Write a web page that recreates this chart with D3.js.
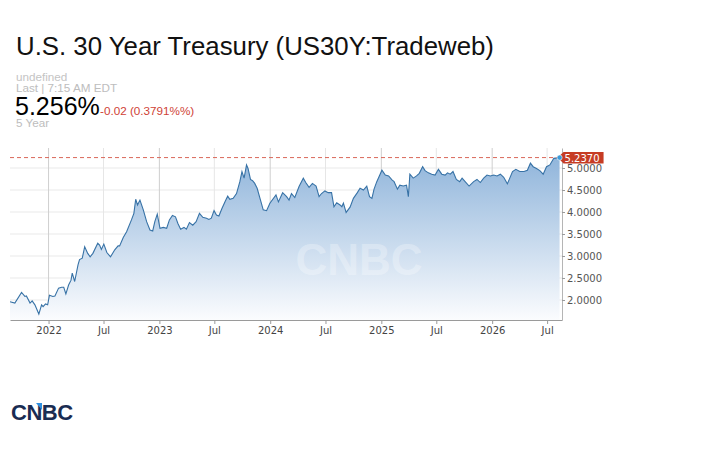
<!DOCTYPE html>
<html>
<head>
<meta charset="utf-8">
<script src="https://cdn.jsdelivr.net/npm/d3@7"></script>
<style>
  body { margin: 0; background: #fff; }
  svg { display: block; }
</style>
</head>
<body>
<div id="app"></div>
<script>
// yield readings (approximate)
const dates = [
  "2021-08-27","2021-09-12","2021-10-04","2021-10-15","2021-10-20","2021-11-01","2021-11-08","2021-11-17",
  "2021-11-30","2021-12-09","2021-12-14","2021-12-22","2021-12-29","2022-01-04","2022-01-15","2022-01-22",
  "2022-02-03","2022-02-13","2022-02-20","2022-02-27","2022-03-08","2022-03-16","2022-03-20","2022-03-28",
  "2022-04-08","2022-04-13","2022-04-22","2022-04-30","2022-05-10","2022-05-18","2022-05-27","2022-06-12",
  "2022-06-18","2022-06-24","2022-07-02","2022-07-12","2022-07-24","2022-08-07","2022-08-18","2022-08-23",
  "2022-09-04","2022-09-15","2022-10-01","2022-10-09","2022-10-15","2022-10-21","2022-10-29","2022-11-09",
  "2022-11-20","2022-12-01","2022-12-10","2022-12-17","2022-12-25","2023-01-03","2023-01-14","2023-01-25",
  "2023-02-03","2023-02-13","2023-02-23","2023-03-03","2023-03-12","2023-03-23","2023-03-31","2023-04-10",
  "2023-04-21","2023-05-02","2023-05-13","2023-05-24","2023-06-05","2023-06-13","2023-06-21","2023-06-30",
  "2023-07-08","2023-07-16","2023-07-26","2023-08-07","2023-08-14","2023-08-21","2023-09-01","2023-09-12",
  "2023-09-23","2023-09-30","2023-10-07","2023-10-15","2023-10-20","2023-10-28","2023-11-04","2023-11-11",
  "2023-11-19","2023-11-30","2023-12-09","2023-12-20","2023-12-31","2024-01-20","2024-01-28","2024-02-11",
  "2024-02-24","2024-03-03","2024-03-11","2024-03-22","2024-04-05","2024-04-19","2024-04-27","2024-05-08",
  "2024-05-19","2024-05-31","2024-06-10","2024-06-18","2024-06-29","2024-07-10","2024-07-21","2024-07-29",
  "2024-08-07","2024-08-18","2024-08-24","2024-08-29","2024-09-07","2024-09-20","2024-10-01","2024-10-14",
  "2024-10-23","2024-11-03","2024-11-14","2024-11-23","2024-12-01","2024-12-08","2024-12-17","2025-01-03",
  "2025-01-14","2025-01-25","2025-02-05","2025-02-12","2025-02-23","2025-03-03","2025-03-14","2025-03-25",
  "2025-03-31","2025-04-05","2025-04-16","2025-04-27","2025-05-06","2025-05-17","2025-05-25","2025-06-05",
  "2025-06-16","2025-06-27","2025-07-08","2025-07-19","2025-07-30","2025-08-07","2025-08-16","2025-08-25",
  "2025-09-05","2025-09-16","2025-09-24","2025-10-04","2025-10-17","2025-11-01","2025-11-12","2025-11-23",
  "2025-12-04","2025-12-15","2025-12-26","2026-01-06","2026-01-17","2026-01-28","2026-02-08","2026-02-20",
  "2026-02-28","2026-03-09","2026-03-20","2026-04-02","2026-04-16","2026-04-27","2026-05-07","2026-05-16",
  "2026-05-27","2026-06-07","2026-06-18","2026-06-29","2026-07-10","2026-07-23","2026-08-11"
];
const yields = [
  1.96,1.93,2.17,2.08,2.09,1.93,1.98,1.89,
  1.68,1.89,1.85,1.91,1.89,2.11,2.08,2.09,
  2.27,2.29,2.29,2.14,2.34,2.45,2.61,2.42,
  2.80,2.92,2.95,3.21,3.06,2.98,3.06,3.29,
  3.25,3.15,3.27,3.08,2.98,3.14,3.23,3.23,
  3.42,3.55,3.82,3.97,4.29,4.16,4.27,4.05,
  3.78,3.59,3.57,3.78,3.95,3.63,3.65,3.63,
  3.82,3.92,3.89,3.74,3.61,3.65,3.61,3.76,
  3.70,3.78,3.97,3.88,3.86,3.83,3.86,4.03,
  3.93,3.91,4.08,4.26,4.36,4.29,4.31,4.42,
  4.69,4.92,4.77,5.07,4.99,4.74,4.71,4.65,
  4.54,4.27,4.05,4.03,4.20,4.39,4.23,4.44,
  4.35,4.27,4.42,4.33,4.58,4.77,4.67,4.56,
  4.65,4.59,4.35,4.42,4.48,4.44,4.44,4.12,
  4.21,4.16,4.12,4.20,3.99,4.11,4.31,4.44,
  4.54,4.50,4.59,4.35,4.31,4.52,4.69,4.95,
  4.84,4.82,4.73,4.69,4.52,4.61,4.59,4.61,
  4.35,4.86,4.77,4.82,4.88,5.03,4.94,4.89,
  4.86,4.84,4.97,4.86,4.84,4.89,4.86,4.92,
  4.74,4.69,4.77,4.69,4.59,4.69,4.74,4.67,
  4.77,4.84,4.82,4.84,4.82,4.86,4.79,4.64,
  4.77,4.92,4.97,4.92,4.92,4.95,5.11,5.03,
  4.99,4.94,4.86,5.03,5.07,5.22,5.237
];
const lastValue = 5.237;

const yTicks = [2.0, 2.5, 3.0, 3.5, 4.0, 4.5, 5.0];
const xTickDates = ["2022-01-01","2022-07-01","2023-01-01","2023-07-01","2024-01-01",
  "2024-07-01","2025-01-01","2025-07-01","2026-01-01","2026-07-01"];
const xTickLabels = ["2022","Jul","2023","Jul","2024","Jul","2025","Jul","2026","Jul"];

const parse = d3.timeParse("%Y-%m-%d");
const series = dates.map((d, i) => ({ date: parse(d), value: yields[i] }));

const W = 720, H = 450;
const plotLeft = 10, plotRight = 562, plotTop = 148, plotBottom = 320;

let svg = d3.select("#app")
  .append("svg")
    .attr("width", W)
    .attr("height", H);

// header texts
const sans = "'Liberation Sans', Arial, Helvetica, sans-serif";
svg.append("text")
  .attr("x", 16).attr("y", 55)
  .style("font-family", sans)
  .style("font-size", "25.8px")
  .style("fill", "#111")
  .text("U.S. 30 Year Treasury (US30Y:Tradeweb)");

svg.append("text").attr("x", 16).attr("y", 80.5)
  .style("font-family", sans).style("font-size", "11.7px").style("fill", "#c4c4c4")
  .text("undefined");
svg.append("text").attr("x", 16).attr("y", 92)
  .style("font-family", sans).style("font-size", "11.7px").style("fill", "#bdbdbd")
  .text("Last | 7:15 AM EDT");
svg.append("text").attr("x", 15).attr("y", 114.5)
  .style("font-family", sans).style("font-size", "25px").style("fill", "#000")
  .text("5.256%");
svg.append("text").attr("x", 100).attr("y", 115)
  .style("font-family", sans).style("font-size", "11.7px").style("fill", "#cf3f36")
  .text("-0.02 (0.3791%%)");
svg.append("text").attr("x", 16).attr("y", 126.5)
  .style("font-family", sans).style("font-size", "11.7px").style("fill", "#bdbdbd")
  .text("5 Year");

// scales
let x = d3.scaleTime()
  .domain([parse("2021-08-27"), parse("2026-08-19")])
  .range([plotLeft, plotRight]);
let y = d3.scaleLinear()
  .domain([1.545, 5.455])
  .range([plotBottom, plotTop]);

// gradient fill
let defs = svg.append("defs");
let grad = defs.append("linearGradient")
  .attr("id", "fillGrad")
  .attr("gradientUnits", "userSpaceOnUse")
  .attr("x1", 0).attr("y1", plotTop).attr("x2", 0).attr("y2", plotBottom);
grad.append("stop").attr("offset", "0%").attr("stop-color", "#8ab1d9");
grad.append("stop").attr("offset", "100%").attr("stop-color", "#fbfcfe");

let chart = svg.append("g").attr("class", "main");

// horizontal grid
chart.selectAll(".hgrid")
  .data(yTicks)
  .enter()
  .append("line")
    .attr("x1", plotLeft).attr("x2", plotRight)
    .attr("y1", d => y(d)).attr("y2", d => y(d))
    .style("stroke", "#e9e9e9")
    .style("stroke-width", 1);

// vertical grid
chart.selectAll(".vgrid")
  .data(xTickDates)
  .enter()
  .append("line")
    .attr("x1", d => x(parse(d))).attr("x2", d => x(parse(d)))
    .attr("y1", plotTop).attr("y2", plotBottom)
    .style("stroke", (d, i) => xTickLabels[i] === "Jul" ? "#e6e6e6" : "#cfcfcf")
    .style("stroke-width", 1);

// area + line
let area = d3.area()
  .x(d => x(d.date))
  .y0(plotBottom)
  .y1(d => y(d.value));
let line = d3.line()
  .x(d => x(d.date))
  .y(d => y(d.value));

chart.append("path")
  .datum(series)
  .attr("d", area)
  .style("fill", "url(#fillGrad)");

// watermark
chart.append("text")
  .attr("x", 359).attr("y", 275)
  .attr("text-anchor", "middle")
  .style("font-family", sans)
  .style("font-weight", "bold")
  .style("font-size", "44px")
  .style("fill", "#ffffff")
  .style("fill-opacity", 0.3)
  .text("CNBC");

chart.append("path")
  .datum(series)
  .attr("d", line)
  .style("fill", "none")
  .style("stroke", "#3772a6")
  .style("stroke-width", 1.1);

// dashed last-value line
chart.append("line")
  .attr("x1", plotLeft).attr("x2", plotRight - 4)
  .attr("y1", y(lastValue)).attr("y2", y(lastValue))
  .style("stroke", "#d9685a")
  .style("stroke-width", 1)
  .style("stroke-dasharray", "4,3");

// bottom axis
let xAxis = d3.axisBottom(x)
  .tickValues(xTickDates.map(parse))
  .tickFormat((d, i) => xTickLabels[i])
  .tickSize(4)
  .tickSizeOuter(0);
let gx = svg.append("g")
  .attr("transform", "translate(0," + plotBottom + ")")
  .call(xAxis);
gx.select(".domain").style("stroke", "#9a9a9a");
gx.selectAll(".tick line").style("stroke", "#9a9a9a");
gx.selectAll(".tick text")
  .attr("dy", "0.71em").attr("y", 7)
  .style("font-family", "'DejaVu Sans', Verdana, sans-serif")
  .style("font-size", "10px")
  .style("fill", "#444");

// right axis
let yAxis = d3.axisRight(y)
  .tickValues(yTicks)
  .tickFormat(d3.format(".4f"))
  .tickSize(3)
  .tickSizeOuter(0);
let gy = svg.append("g")
  .attr("transform", "translate(" + plotRight + ",0)")
  .call(yAxis);
gy.select(".domain").style("stroke", "#b5b5b5");
gy.selectAll(".tick line").style("stroke", "#9a9a9a");
gy.selectAll(".tick text")
  .attr("x", 5)
  .style("font-family", "'DejaVu Sans', Verdana, sans-serif")
  .style("font-size", "10px")
  .style("fill", "#555");

// last value marker + label
let last = series[series.length - 1];
let lx = x(last.date), ly = y(last.value);
svg.append("path")
  .attr("d", `M${lx - 2},${ly} L${lx + 4},${ly - 5.5} L${lx + 44},${ly - 5.5} L${lx + 44},${ly + 6} L${lx + 4},${ly + 6} Z`)
  .style("fill", "#c63c24");
svg.append("circle")
  .attr("cx", lx).attr("cy", ly).attr("r", 2.6)
  .style("fill", "#3a9ad9")
  .style("stroke", "#fff")
  .style("stroke-width", 0.6);
svg.append("text")
  .attr("x", lx + 5).attr("y", ly + 4)
  .style("font-family", "'DejaVu Sans', Verdana, sans-serif")
  .style("font-size", "10px")
  .style("fill", "#fff")
  .text(d3.format(".4f")(lastValue));

// CNBC logo bottom-left
let logo = svg.append("g").attr("transform", "translate(11,420)");
logo.append("text")
  .attr("x", 0).attr("y", 0)
  .style("font-family", sans)
  .style("font-weight", "bold")
  .style("font-size", "22px")
  .style("letter-spacing", "-0.5px")
  .style("fill", "#1a2c52")
  .text("CNBC");
logo.append("path")
  .attr("d", "M25,-17 L31,-17 L31,-10 Z")
  .style("fill", "#2f8fe0");
</script>
</body>
</html>
